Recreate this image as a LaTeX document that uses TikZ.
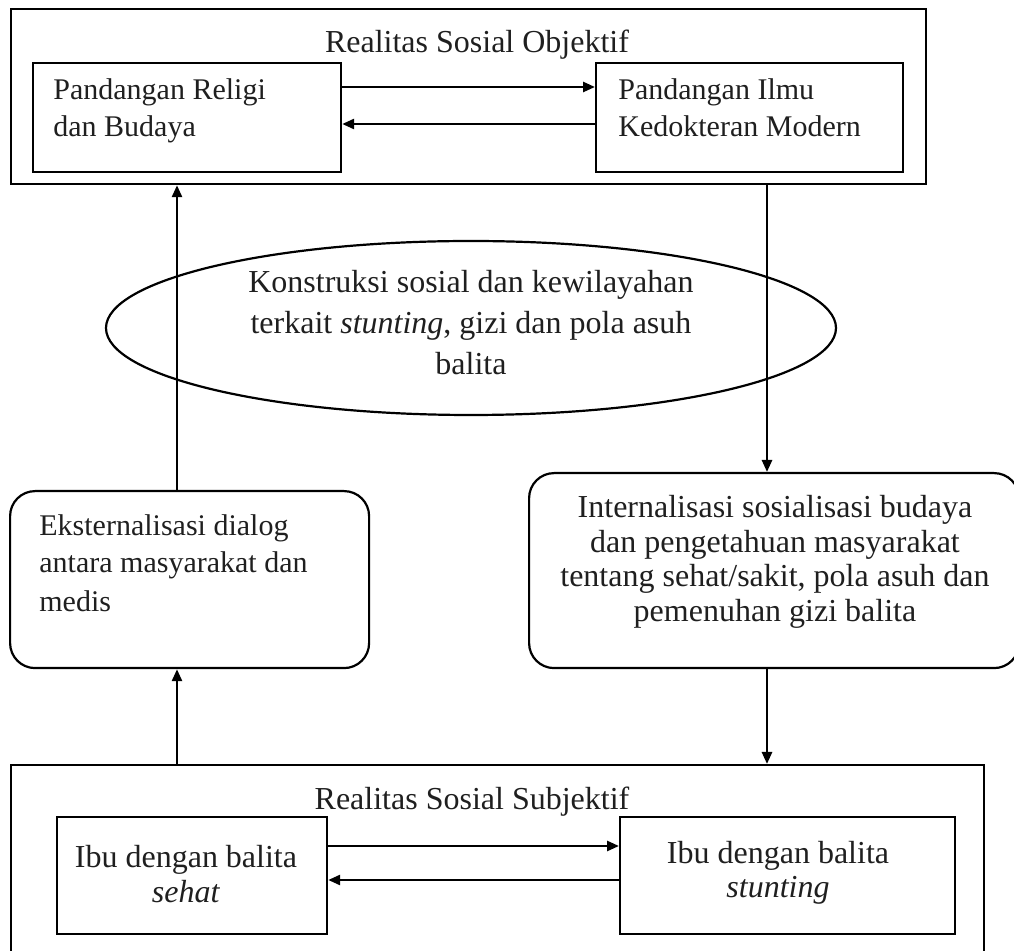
\documentclass[tikz,border=0pt]{standalone}
\usepackage{fontspec}
\setmainfont{Liberation Serif}
\usetikzlibrary{arrows.meta,shapes.geometric}
\begin{document}
\begin{tikzpicture}[x=0.5pt,y=-0.5pt,
  frame/.style={draw, line width=1.1pt, rectangle, inner sep=0pt},
  rbox/.style={draw, line width=1.1pt, rectangle, rounded corners=12.5pt, inner sep=0pt},
  oval/.style={draw, line width=1.1pt, ellipse, inner sep=0pt},
  conn/.style={line width=1.3pt, -{Triangle[length=6pt,width=5pt]}},
  txtA/.style={font=\fontsize{15}{18}\selectfont, inner sep=0pt, text=black!88},
  txtB/.style={font=\fontsize{16}{19}\selectfont, inner sep=0pt, text=black!88},
]
\useasboundingbox (0,0) rectangle (1014,951);
\clip (0,0) rectangle (1014,951);

% ---- top frame: Realitas Sosial Objektif
\node[frame, anchor=north west, minimum width=457.5pt, minimum height=87.5pt] (obj) at (10,8) {};
\node[txtB, anchor=base] (objT) at (477,53) {Realitas Sosial Objektif};
\node[frame, anchor=north west, minimum width=154pt, minimum height=54.5pt] (rel) at (32,62) {};
\node[txtA, anchor=base west] (rel1) at (53,100) {Pandangan Religi};
\node[txtA, anchor=base west] (rel2) at (53,137) {dan Budaya};
\node[frame, anchor=north west, minimum width=153.5pt, minimum height=54.5pt] (med) at (595,62) {};
\node[txtA, anchor=base west] (med1) at (618,100) {Pandangan Ilmu};
\node[txtA, anchor=base west] (med2) at (618,137) {Kedokteran Modern};

% ---- ellipse
\node[oval, minimum width=365pt, minimum height=87pt] (kons) at (471,328) {};
\node[txtB, anchor=base] (kons1) at (471,293) {Konstruksi sosial dan kewilayahan};
\node[txtB, anchor=base] (kons2) at (471,334) {terkait \textit{stunting}, gizi dan pola asuh};
\node[txtB, anchor=base] (kons3) at (471,375) {balita};

% ---- rounded boxes
\node[rbox, anchor=north west, minimum width=179.5pt, minimum height=88.5pt] (ext) at (9,490) {};
\node[txtA, anchor=base west] (ext1) at (39,536) {Eksternalisasi dialog};
\node[txtA, anchor=base west] (ext2) at (39,573) {antara masyarakat dan};
\node[txtA, anchor=base west] (ext3) at (39,612) {medis};

\node[rbox, anchor=north west, minimum width=245pt, minimum height=97.5pt] (int) at (528,472) {};
\node[txtB, anchor=base] (int1) at (775,518) {Internalisasi sosialisasi budaya};
\node[txtB, anchor=base] (int2) at (775,553) {dan pengetahuan masyarakat};
\node[txtB, anchor=base] (int3) at (775,587) {tentang sehat/sakit, pola asuh dan};
\node[txtB, anchor=base] (int4) at (775,622) {pemenuhan gizi balita};

% ---- bottom frame: Realitas Sosial Subjektif
\node[frame, anchor=north west, minimum width=486.5pt, minimum height=98pt] (subj) at (10,764) {};
\node[txtB, anchor=base] (subjT) at (472,810) {Realitas Sosial Subjektif};
\node[frame, anchor=north west, minimum width=135pt, minimum height=58.5pt] (seh) at (56,816) {};
\node[txtB, anchor=base] (seh1) at (186,868) {Ibu dengan balita};
\node[txtB, anchor=base] (seh2) at (186,903) {\textit{sehat}};
\node[frame, anchor=north west, minimum width=167.5pt, minimum height=58.5pt] (stu) at (619,816) {};
\node[txtB, anchor=base] (stu1) at (778,864) {Ibu dengan balita};
\node[txtB, anchor=base] (stu2) at (778,898) {\textit{stunting}};

% ---- helper coordinates
\coordinate (ya) at (0,87);
\coordinate (yb) at (0,124);
\coordinate (yc) at (0,846);
\coordinate (yd) at (0,880);
\coordinate (xl) at (177,0);
\coordinate (xr) at (767,0);

% ---- connectors
\draw[conn] (rel.east |- ya) -- (med.west |- ya);
\draw[conn] (med.west |- yb) -- (rel.east |- yb);
\draw[conn] (seh.east |- yc) -- (stu.west |- yc);
\draw[conn] (stu.west |- yd) -- (seh.east |- yd);
\draw[conn] (subj.north -| xl) -- (ext.south -| xl);
\draw[conn] (ext.north -| xl) -- (obj.south -| xl);
\draw[conn] (obj.south -| xr) -- (int.north -| xr);
\draw[conn] (int.south -| xr) -- (subj.north -| xr);
\end{tikzpicture}
\end{document}
